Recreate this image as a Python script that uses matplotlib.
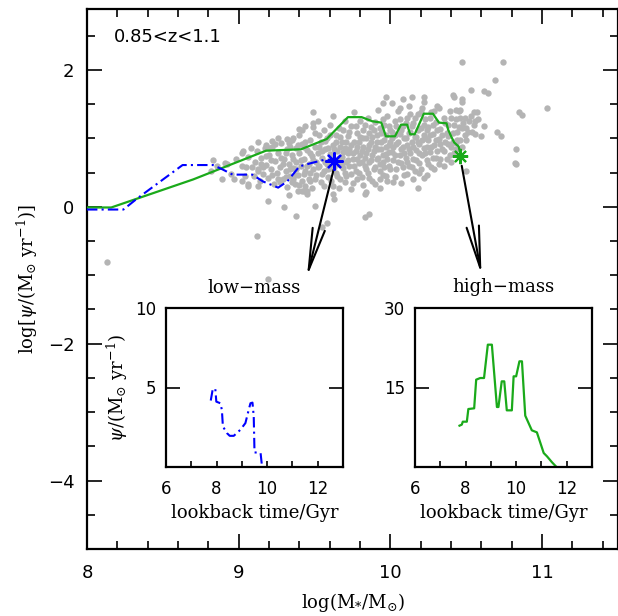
import matplotlib
matplotlib.use("Agg")
import matplotlib.pyplot as plt

plt.rcParams['mathtext.fontset'] = 'dejavuserif'

# main panel: SFR vs stellar mass
green_mass = [8.00, 8.16, 8.70, 9.18, 9.41, 9.58, 9.72, 9.81, 9.88, 9.94, 9.97, 10.03,
              10.07, 10.11, 10.13, 10.16, 10.22, 10.28, 10.32, 10.37, 10.38, 10.40,
              10.42, 10.45, 10.46]
green_sfr = [-0.01, -0.01, 0.40, 0.82, 0.84, 0.99, 1.31, 1.31, 1.25, 1.23, 1.03, 1.03,
             1.20, 1.20, 1.06, 1.06, 1.36, 1.36, 1.23, 1.22, 1.13, 1.03,
             0.94, 0.88, 0.78]
blue_mass = [8.00, 8.24, 8.33, 8.63, 8.83, 8.89, 8.96, 9.09, 9.16, 9.26, 9.32, 9.40,
             9.48, 9.57, 9.63]
blue_sfr = [-0.04, -0.04, 0.12, 0.61, 0.61, 0.55, 0.47, 0.47, 0.37, 0.28, 0.37, 0.59,
            0.64, 0.69, 0.68]
star_low = (9.63, 0.67)
star_high = (10.46, 0.74)

grey_outer = [
    (9.125, 0.94), (9.18, 0.91), (9.22, 0.96), (9.26, 1.01), (9.02, 0.78), (9.32, 0.99),
    (9.36, 1.01), (8.91, 0.64), (9.97, 1.61), (10.01, 1.51), (10.08, 1.57), (10.14, 1.60),
    (9.95, 1.51), (9.49, 1.39), (9.49, 1.22), (9.42, 1.12), (10.06, 1.45), (10.47, 2.11),
    (10.74, 2.11), (10.69, 1.85), (10.53, 1.70), (10.62, 1.69), (10.64, 1.66), (10.41, 1.63),
    (10.42, 1.60), (10.22, 1.60), (10.22, 1.53), (10.47, 1.57), (10.47, 1.53), (10.32, 1.44),
    (10.43, 1.42), (10.46, 1.42), (10.55, 1.38), (10.85, 1.38), (10.87, 1.34), (11.03, 1.45),
    (10.62, 1.18), (10.51, 1.10), (10.56, 1.06), (10.60, 1.04), (10.70, 1.09), (10.73, 1.04),
    (10.50, 0.97), (10.83, 0.85), (10.82, 0.64), (10.47, 0.88), (10.43, 0.93), (10.38, 1.03),
    (8.89, 0.40), (9.02, 0.37), (9.06, 0.31), (9.125, 0.31), (9.125, 0.53), (9.16, 0.58),
    (9.19, 0.08), (9.30, -0.01), (9.38, -0.14), (9.33, 0.17), (9.12, -0.43), (9.39, 0.23),
    (9.50, 0.01), (9.83, -0.15), (9.86, -0.11), (9.58, -0.24), (9.55, -0.30), (9.93, 0.28),
    (9.83, 0.18), (10.18, 0.27), (9.62, 0.18), (9.63, 0.11), (9.45, 0.18), (9.42, 0.23),
    (10.50, 0.52), (10.83, 0.62), (9.19, -1.06), (8.13, -0.81), (8.82, 0.52), (8.92, 0.62),
    (8.97, 0.40), (9.05, 0.58), (9.09, 0.58), (9.06, 0.33), (9.18, 0.74), (9.43, 0.23),
    (9.47, 0.37), (9.35, 0.36), (9.93, 0.40), (9.84, 0.21), (10.57, 1.38), (10.54, 1.09),
    (9.45, 0.23), (8.83, 0.69), (8.86, 0.59), (9.40, 1.13), (9.49, 1.16), (9.34, 0.88),
    (9.43, 0.87), (8.95, 0.48), (8.98, 0.70), (9.02, 0.60), (9.04, 0.45), (9.06, 0.73),
    (9.08, 0.86), (9.03, 0.82),
]

grey_core = [
    (9.10, 0.45), (9.11, 0.66), (9.12, 0.82), (9.13, 0.55), (9.14, 0.38), (9.15, 0.72),
    (9.16, 0.48), (9.17, 0.86), (9.18, 0.61), (9.19, 0.42), (9.20, 0.76), (9.21, 0.55),
    (9.22, 0.88), (9.23, 0.34), (9.24, 0.67), (9.25, 0.49), (9.26, 0.79), (9.27, 0.58),
    (9.28, 0.93), (9.29, 0.41), (9.30, 0.70), (9.31, 0.52), (9.32, 0.84), (9.32, 0.29),
    (9.33, 0.63), (9.34, 0.45), (9.35, 0.97), (9.35, 0.75), (9.36, 0.56), (9.37, 0.33),
    (9.38, 0.86), (9.38, 0.66), (9.39, 0.47), (9.40, 1.05), (9.40, 0.78), (9.41, 0.59),
    (9.42, 0.38), (9.42, 0.92), (9.43, 0.70), (9.44, 0.52), (9.44, 1.18), (9.45, 0.83),
    (9.46, 0.63), (9.46, 0.41), (9.47, 0.98), (9.48, 0.74), (9.48, 0.28), (9.49, 0.55),
    (9.50, 0.88), (9.50, 1.08), (9.51, 0.66), (9.51, 0.46), (9.52, 0.79), (9.52, 1.25),
    (9.53, 0.60), (9.54, 0.94), (9.54, 0.36), (9.55, 0.72), (9.56, 1.12), (9.56, 0.52),
    (9.57, 0.84), (9.58, 0.63), (9.58, 1.00), (9.59, 0.44), (9.60, 0.77), (9.60, 1.20),
    (9.61, 0.57), (9.62, 0.90), (9.62, 0.31), (9.62, 1.32), (9.63, 0.70), (9.64, 1.05),
    (9.64, 0.50), (9.65, 0.82), (9.66, 0.62), (9.66, 1.15), (9.67, 0.40), (9.68, 0.95),
    (9.68, 0.73), (9.69, 0.56), (9.70, 1.26), (9.70, 0.86), (9.71, 0.66), (9.71, 0.45),
    (9.72, 1.03), (9.72, 0.78), (9.73, 0.59), (9.74, 1.18), (9.74, 0.90), (9.75, 0.70),
    (9.75, 0.35), (9.76, 1.38), (9.77, 0.81), (9.77, 0.52), (9.78, 1.08), (9.79, 0.64),
    (9.79, 0.95), (9.80, 0.75), (9.80, 1.25), (9.81, 0.44), (9.82, 0.87), (9.82, 1.12),
    (9.83, 0.60), (9.84, 1.00), (9.84, 0.78), (9.85, 1.30), (9.85, 0.50), (9.86, 0.90),
    (9.87, 0.68), (9.87, 1.16), (9.88, 0.38), (9.88, 1.02), (9.89, 0.82), (9.90, 0.58),
    (9.90, 1.24), (9.91, 0.94), (9.92, 0.72), (9.92, 1.42), (9.93, 0.53), (9.94, 1.08),
    (9.94, 0.85), (9.95, 0.66), (9.96, 1.20), (9.96, 0.97), (9.97, 0.45), (9.97, 0.77),
    (9.98, 1.33), (9.99, 0.90), (9.99, 0.60), (10.00, 1.12), (10.01, 0.80), (10.01, 1.00),
    (10.02, 0.68), (10.02, 0.36), (10.03, 1.25), (10.04, 0.92), (10.04, 0.55), (10.05, 1.40),
    (10.06, 0.76), (10.06, 1.06), (10.07, 0.64), (10.08, 0.88), (10.08, 1.18), (10.09, 0.47),
    (10.10, 1.00), (10.10, 0.72), (10.11, 1.30), (10.12, 0.84), (10.12, 0.60), (10.12, 1.47),
    (10.13, 1.10), (10.14, 0.95), (10.15, 0.70), (10.15, 1.22), (10.16, 0.52), (10.17, 1.02),
    (10.17, 0.83), (10.18, 1.35), (10.19, 0.64), (10.19, 0.92), (10.20, 1.15), (10.21, 0.75),
    (10.21, 1.45), (10.22, 1.05), (10.22, 0.86), (10.22, 0.42), (10.23, 1.28), (10.24, 0.68),
    (10.25, 0.97), (10.25, 1.16), (10.26, 0.80), (10.27, 1.38), (10.27, 0.58), (10.28, 1.06),
    (10.29, 0.90), (10.30, 1.24), (10.30, 0.72), (10.31, 1.48), (10.32, 0.99), (10.32, 0.62),
    (10.33, 1.14), (10.34, 0.84), (10.35, 1.30), (10.36, 0.95), (10.37, 0.70), (10.38, 1.20),
    (10.39, 1.40), (10.40, 0.88), (10.41, 1.08), (10.42, 0.78), (10.43, 1.28), (10.44, 0.98),
    (10.45, 1.16), (10.46, 1.30), (10.48, 1.22), (10.49, 1.05), (10.52, 1.25), (10.55, 1.20),
    (10.58, 1.28),
    (9.21, 0.68), (9.24, 0.92), (9.26, 0.40), (9.29, 0.62), (9.31, 0.78), (9.33, 0.93),
    (9.34, 0.55), (9.36, 0.70), (9.37, 0.47), (9.39, 0.90), (9.41, 0.68), (9.43, 0.48),
    (9.44, 0.95), (9.45, 0.60), (9.47, 0.78), (9.47, 0.50), (9.49, 0.68), (9.50, 0.40),
    (9.52, 0.58), (9.53, 0.88), (9.53, 1.05), (9.55, 0.48), (9.55, 0.82), (9.57, 0.66),
    (9.57, 0.96), (9.59, 0.55), (9.59, 0.86), (9.60, 1.05), (9.61, 0.70), (9.63, 0.85),
    (9.63, 0.58), (9.64, 0.95), (9.65, 0.45), (9.66, 0.72), (9.67, 0.88), (9.67, 1.02),
    (9.68, 0.62), (9.69, 0.80), (9.69, 1.12), (9.70, 0.50), (9.71, 0.95), (9.72, 0.68),
    (9.73, 0.85), (9.73, 1.10), (9.74, 0.48), (9.75, 0.78), (9.76, 0.95), (9.76, 0.60),
    (9.77, 1.18), (9.78, 0.70), (9.78, 0.88), (9.79, 0.50), (9.80, 1.02), (9.81, 0.65),
    (9.81, 0.82), (9.82, 1.00), (9.83, 0.72), (9.83, 1.20), (9.84, 0.55), (9.85, 0.85),
    (9.86, 1.08), (9.86, 0.65), (9.87, 0.95), (9.88, 0.75), (9.89, 1.12), (9.89, 0.55),
    (9.90, 0.88), (9.91, 0.70), (9.91, 1.05), (9.92, 0.85), (9.93, 0.62), (9.93, 1.15),
    (9.94, 0.95), (9.95, 0.75), (9.95, 1.28), (9.96, 0.58), (9.97, 0.88), (9.97, 1.05),
    (9.98, 0.70), (9.99, 1.18), (9.99, 0.80), (10.00, 0.95), (10.00, 0.55), (10.01, 1.10),
    (10.02, 0.88), (10.03, 0.75), (10.03, 1.05), (10.04, 1.18), (10.05, 0.65), (10.05, 0.95),
    (10.06, 1.28), (10.07, 0.85), (10.07, 1.12), (10.08, 0.58), (10.09, 1.00), (10.09, 0.78),
    (10.10, 1.22), (10.11, 0.90), (10.11, 0.66), (10.12, 1.08), (10.13, 0.78), (10.13, 1.35),
    (10.14, 0.58), (10.14, 1.18), (10.15, 0.88), (10.16, 1.02), (10.16, 1.30), (10.17, 0.68),
    (10.18, 0.95), (10.18, 1.12), (10.19, 0.78), (10.20, 1.38), (10.20, 0.55), (10.21, 0.98),
    (10.22, 1.20), (10.23, 0.78), (10.23, 1.00), (10.24, 1.12), (10.24, 0.88), (10.25, 0.62),
    (10.26, 1.30), (10.26, 1.05), (10.27, 0.88), (10.28, 0.72), (10.28, 1.20), (10.29, 1.40),
    (10.30, 0.98), (10.31, 0.82), (10.31, 1.12), (10.33, 0.92), (10.33, 0.70), (10.34, 1.05),
    (10.35, 0.82), (10.36, 1.22), (10.37, 1.08), (10.38, 0.92), (10.39, 0.75), (10.40, 1.30),
    (10.41, 0.95), (10.42, 1.20), (10.43, 0.85), (10.44, 1.10), (10.45, 1.40), (10.46, 0.98),
    (10.47, 1.15), (10.49, 1.30), (10.50, 1.15), (10.53, 1.32), (10.56, 1.25),
    (9.56, 0.30), (9.61, 0.38), (9.66, 0.28), (9.70, 0.36), (9.74, 0.26), (9.78, 0.40),
    (9.82, 0.32), (9.86, 0.42), (9.90, 0.34), (9.95, 0.46), (9.98, 0.38), (10.03, 0.44),
    (10.07, 0.35), (10.11, 0.48), (10.15, 0.40), (10.19, 0.50), (10.24, 0.46), (10.29, 0.55),
    (10.35, 0.60), (10.40, 0.66), (9.22, 0.46), (9.27, 0.36), (9.31, 0.44), (9.36, 0.40),
    (9.40, 0.32), (9.44, 0.30), (9.15, 0.62), (9.20, 0.86), (9.28, 0.72), (9.38, 0.55),
]

# insets: star formation histories
low_time = [7.77, 7.85, 7.95, 7.99, 8.15, 8.21, 8.25, 8.41, 8.52, 8.68, 8.94, 9.14,
            9.27, 9.34, 9.42, 9.47, 9.50, 9.74, 9.80]
low_sfr = [4.18, 4.91, 4.91, 4.11, 4.01, 3.59, 2.55, 2.13, 1.96, 1.96, 2.34, 2.76,
           3.59, 4.01, 4.05, 3.17, 0.92, 0.88, 0.0]
high_time = [7.76, 7.85, 7.89, 8.05, 8.11, 8.34, 8.42, 8.58, 8.73, 8.88, 9.04, 9.24,
             9.30, 9.43, 9.53, 9.63, 9.83, 9.90, 10.00, 10.13, 10.23, 10.36, 10.62,
             10.82, 11.09, 11.22, 11.42, 11.57]
high_sfr = [7.80, 7.99, 8.55, 8.55, 10.94, 11.07, 16.48, 16.79, 16.79, 23.08, 23.08, 11.32,
            11.32, 16.16, 16.16, 10.69, 10.69, 17.11, 17.11, 19.94, 19.94, 9.69, 6.92,
            6.54, 2.64, 2.01, 0.88, 0.13]

GREEN = '#1aaa1a'
BLUE = '#0000ff'
GREY = '#b4b4b4'
SERIF = 'DejaVu Serif'


def style_main(ax):
    ax.set_xlim(8, 11.5)
    ax.set_ylim(-5, 2.89)
    ax.set_xticks([8, 9, 10, 11])
    ax.set_xticks([8 + 0.2 * i for i in range(18)], minor=True)
    ax.set_yticks([-4, -2, 0, 2])
    ax.set_yticks([-5 + 0.5 * i for i in range(16)], minor=True)
    ax.tick_params(which='both', direction='in', top=True, right=True, width=1.2)
    ax.tick_params(which='major', length=11, labelsize=13, pad=9)
    ax.tick_params(axis='x', which='major', pad=11)
    ax.tick_params(which='minor', length=5.5)
    for s in ax.spines.values():
        s.set_linewidth(1.6)


def style_inset(ax, ymax):
    ax.set_xlim(6, 13)
    ax.set_ylim(0, ymax)
    ax.set_xticks([6, 8, 10, 12])
    ax.set_xticks([7, 9, 11, 13], minor=True)
    ax.set_yticks([ymax / 2, ymax])
    ax.tick_params(which='both', direction='in', top=False, right=True, width=1.2)
    ax.tick_params(axis='x', which='both', length=4.5, labelsize=12, pad=9)
    ax.tick_params(axis='y', which='major', length=10, labelsize=12, pad=7)
    for s in ax.spines.values():
        s.set_linewidth(1.6)
    ax.set_xlabel('lookback time/Gyr', family=SERIF, fontsize=13, labelpad=5)


fig = plt.figure(figsize=(6.18, 6.16), dpi=100)
ax = fig.add_axes([87 / 618, 67 / 616, 531 / 618, 540 / 616])

grey_pts = grey_outer + grey_core
ax.scatter([p[0] for p in grey_pts], [p[1] for p in grey_pts], s=21, color=GREY,
           linewidths=0, zorder=1)
ax.plot(green_mass, green_sfr, color=GREEN, lw=1.6, zorder=3)
ax.plot(blue_mass, blue_sfr, color=BLUE, lw=1.5, dashes=(5, 2, 1, 2), zorder=3)
ax.plot(*star_low, marker=(8, 2, 0), ms=13, mew=1.6, color=BLUE, zorder=4)
ax.plot(*star_high, marker=(8, 2, 0), ms=11, mew=1.5, color=GREEN, zorder=4)

arrow = dict(arrowstyle='->,head_length=3.0,head_width=0.45', lw=1.5, color='black',
             shrinkA=0, shrinkB=0, mutation_scale=10)
ax.annotate('', xy=(9.45, -1.02), xytext=(9.625, 0.54), arrowprops=arrow)
ax.annotate('', xy=(10.60, -0.99), xytext=(10.47, 0.60), arrowprops=arrow)

ax.text(8.18, 2.48, '0.85<z<1.1', fontsize=13, va='center', ha='left')
style_main(ax)
ax.set_xlabel(r'log(M$_{*}$/M$_{\odot}$)', family=SERIF, fontsize=13, labelpad=6)
ax.set_ylabel(r'log[$\psi$/(M$_{\odot}$ yr$^{-1}$)]', family=SERIF, fontsize=13,
              labelpad=6)

ax_low = fig.add_axes([166 / 618, 149 / 616, 177 / 618, 159 / 616])
ax_low.plot(low_time, low_sfr, color=BLUE, lw=1.5, dashes=(5, 2, 1, 2))
style_inset(ax_low, 10)
ax_low.set_yticklabels(['5', '10'])
ax_low.set_ylabel(r'$\psi$/(M$_{\odot}$ yr$^{-1}$)', family=SERIF, fontsize=13,
                  labelpad=4)
ax_low.text(0.5, 1.126, 'low\u2212mass', transform=ax_low.transAxes, family=SERIF,
            fontsize=13, ha='center', va='center')

ax_high = fig.add_axes([415 / 618, 149 / 616, 177 / 618, 159 / 616])
ax_high.plot(high_time, high_sfr, color=GREEN, lw=1.6)
style_inset(ax_high, 30)
ax_high.set_yticklabels(['15', '30'])
ax_high.text(0.5, 1.133, 'high\u2212mass', transform=ax_high.transAxes, family=SERIF,
             fontsize=13, ha='center', va='center')

fig.savefig('out.png', dpi=100)
